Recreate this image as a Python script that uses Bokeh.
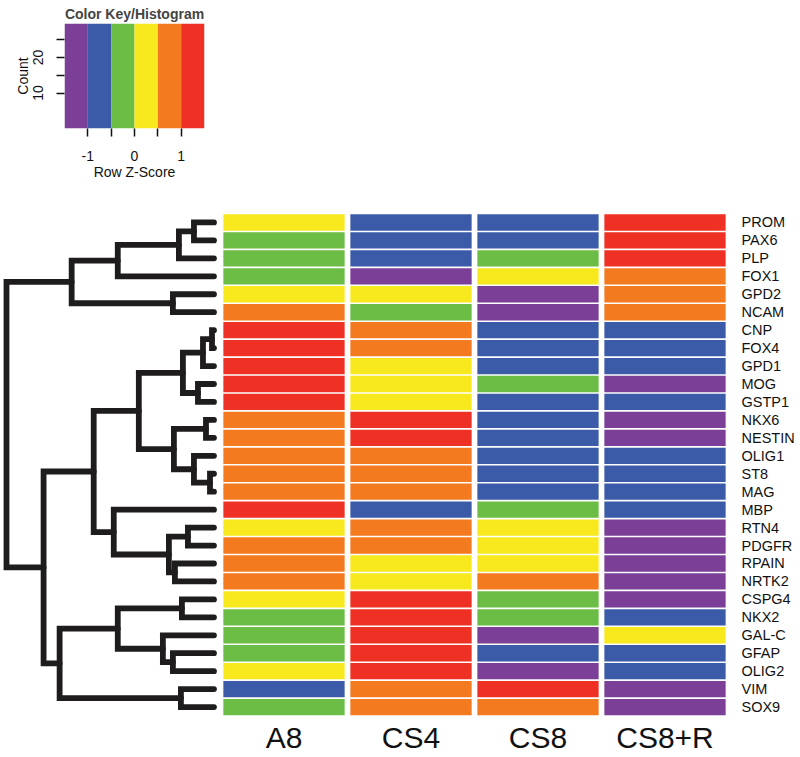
from bokeh.plotting import figure
from bokeh.models import ColumnDataSource, Range1d, FactorRange, LinearColorMapper, FixedTicker
from bokeh.layouts import column, row
from bokeh.core.properties import value
from bokeh.embed import file_html
from bokeh.resources import INLINE

FONT = "Liberation Sans"

# ---------------- data ----------------
genes = ["PROM", "PAX6", "PLP", "FOX1", "GPD2", "NCAM", "CNP", "FOX4", "GPD1",
         "MOG", "GSTP1", "NKX6", "NESTIN", "OLIG1", "ST8", "MAG", "MBP", "RTN4",
         "PDGFR", "RPAIN", "NRTK2", "CSPG4", "NKX2", "GAL-C", "GFAP", "OLIG2",
         "VIM", "SOX9"]
samples = ["A8", "CS4", "CS8", "CS8+R"]

# row z-scores
z_A8 = [0.25, -0.25, -0.25, -0.25, 0.25, 0.75, 1.25, 1.25, 1.25, 1.25, 1.25, 0.75, 0.75, 0.75,
        0.75, 0.75, 1.25, 0.25, 0.75, 0.75, 0.75, 0.25, -0.25, -0.25, -0.25, 0.25, -0.75, -0.25]
z_CS4 = [-0.75, -0.75, -0.75, -1.25, 0.25, -0.25, 0.75, 0.75, 0.25, 0.25, 0.25, 1.25, 1.25, 0.75,
         0.75, 0.75, -0.75, 0.75, 0.75, 0.25, 0.25, 1.25, 1.25, 1.25, 1.25, 1.25, 0.75, 0.75]
z_CS8 = [-0.75, -0.75, -0.25, 0.25, -1.25, -1.25, -0.75, -0.75, -0.75, -0.25, -0.75, -0.75, -0.75, -0.75,
         -0.75, -0.75, -0.25, 0.25, 0.25, 0.25, 0.75, -0.25, -0.25, -1.25, -0.75, -1.25, 1.25, 0.75]
z_CS8R = [1.25, 1.25, 1.25, 0.75, 0.75, 0.75, -0.75, -0.75, -0.75, -1.25, -0.75, -1.25, -1.25, -0.75,
          -0.75, -0.75, -0.75, -1.25, -1.25, -1.25, -1.25, -1.25, -0.75, 0.25, -0.75, -0.75, -1.25, -1.25]

key_breaks = [-1.5, -1.0, -0.5, 0.0, 0.5, 1.0, 1.5]
key_colors = ["#7b3f98", "#3b5ba8", "#6bbd45", "#f7e91e", "#f47a20", "#ee3124"]
key_count_max = 29.6
key_x_ticks = [-1.0, -0.5, 0.0, 0.5, 1.0]
key_x_labels = ["-1", "", "0", "", "1"]
key_y_ticks = [10, 15, 20, 25]
key_y_labels = ["10", "", "20", ""]

# row dendrogram (linkage style: leaves 0..27, merged nodes 28..)
merge_left = [6, 14, 11, 28, 9, 0, 13, 17, 31, 21, 26, 33, 19, 30, 4, 24, 35, 23, 36, 39, 37, 16, 46, 47, 48, 50, 51]
merge_right = [7, 15, 12, 8, 10, 1, 29, 18, 32, 22, 27, 2, 20, 34, 5, 25, 40, 43, 41, 3, 45, 44, 49, 42, 38, 52, 53]
merge_height = [2, 4, 8, 11, 16, 20, 20, 26, 31, 32, 33, 35, 39, 40, 41, 41, 45, 51, 75, 96, 96, 100, 120, 142, 154, 170, 207]

# ---------------- dendrogram geometry ----------------
n = len(genes)
node_y = [i + 0.5 for i in range(n)]
node_h = [0.0] * n
dxs, dys = [], []
for a, b, h in zip(merge_left, merge_right, merge_height):
    dxs.append([node_h[a], h, h, node_h[b]])
    dys.append([node_y[a], node_y[a], node_y[b], node_y[b]])
    node_y.append((node_y[a] + node_y[b]) / 2.0)
    node_h.append(h)

yr = Range1d(start=30.31, end=0)
FRAME_H = 544
TOP = 25

dendro = figure(frame_width=220, frame_height=FRAME_H, x_range=Range1d(212.98, -6.49), y_range=yr,
                x_axis_location=None, y_axis_location=None, toolbar_location=None,
                output_backend="svg", min_border_left=0, min_border_right=0,
                min_border_top=TOP, min_border_bottom=0, outline_line_color=None)
dendro.multi_line(xs=dxs, ys=dys, line_color="#1e1c1d", line_width=5.8,
                  line_cap="round", line_join="miter")
dendro.xgrid.visible = False
dendro.ygrid.visible = False

# ---------------- heatmap ----------------
cols, ys, zs = [], [], []
for s, zc in zip(samples, [z_A8, z_CS4, z_CS8, z_CS8R]):
    for i, zv in enumerate(zc):
        cols.append(s)
        ys.append(i + 0.5)
        zs.append(zv)
src = ColumnDataSource(dict(col=cols, y=ys, z=zs))
mapper = LinearColorMapper(palette=key_colors, low=key_breaks[0], high=key_breaks[-1])

heat = figure(frame_width=508, frame_height=FRAME_H, x_range=FactorRange(factors=samples, range_padding=0),
              y_range=yr, x_axis_location=None, y_axis_location="right", toolbar_location=None,
              output_backend="svg", min_border_left=0, min_border_right=0,
              min_border_top=TOP, min_border_bottom=0, outline_line_color=None)
heat.rect(x="col", y="y", width=0.955, height=0.91, source=src,
          fill_color={"field": "z", "transform": mapper}, line_color=None)
heat.text(x=samples, y=[29.22] * len(samples), text=samples, text_align="center",
          text_baseline="middle", text_font_size="30px", text_font=value(FONT),
          text_color="#111111")
heat.xgrid.visible = False
heat.ygrid.visible = False
ya = heat.yaxis[0]
ya.ticker = FixedTicker(ticks=[i + 0.5 for i in range(n)], minor_ticks=[])
ya.major_label_overrides = {i + 0.5: g for i, g in enumerate(genes)}
ya.axis_line_color = None
ya.major_tick_line_color = None
ya.major_tick_in = 0
ya.major_tick_out = 0
ya.minor_tick_line_color = None
ya.major_label_standoff = 13
ya.major_label_text_font = FONT
ya.major_label_text_font_size = "14.5px"
ya.major_label_text_color = "#111111"

# ---------------- colour key ----------------
key = figure(frame_width=140, frame_height=105, x_range=Range1d(key_breaks[0], key_breaks[-1]),
             y_range=Range1d(0, key_count_max), toolbar_location=None, output_backend="svg",
             min_border_left=64, min_border_right=10, min_border_top=23, min_border_bottom=60,
             outline_line_color=None, title="Color Key/Histogram")
key.quad(left=key_breaks[:-1], right=key_breaks[1:], bottom=0, top=key_count_max,
         fill_color=key_colors, line_color=None)
key.grid.visible = False
key.title.align = "center"
key.title.text_font = FONT
key.title.text_font_size = "14px"
key.title.text_font_style = "bold"
key.title.standoff = 0
key.title.vertical_align = "top"

xa = key.xaxis[0]
xa.ticker = FixedTicker(ticks=key_x_ticks, minor_ticks=[])
xa.major_label_overrides = dict(zip(key_x_ticks, key_x_labels))
xa.axis_label = "Row Z-Score"
yk = key.yaxis[0]
yk.ticker = FixedTicker(ticks=key_y_ticks, minor_ticks=[])
yk.major_label_overrides = dict(zip(key_y_ticks, key_y_labels))
yk.major_label_orientation = "vertical"
yk.axis_label = "Count"
for ax in (xa, yk):
    ax.axis_line_color = None
    ax.major_tick_in = 0
    ax.major_tick_out = 8
    ax.major_tick_line_width = 1.5
    ax.major_tick_line_color = "#111111"
    ax.minor_tick_line_color = None
    ax.major_label_text_font = FONT
    ax.major_label_text_font_size = "14px"
    ax.major_label_text_color = "#111111"
    ax.axis_label_text_font = FONT
    ax.axis_label_text_font_size = "14px"
    ax.axis_label_text_font_style = "normal"
    ax.axis_label_text_color = "#111111"
xa.major_label_standoff = 14
xa.axis_label_standoff = 0
yk.major_label_standoff = 13
yk.axis_label_standoff = 0

layout = column(key, row(dendro, heat))

open("out.html", "w").write(file_html(layout, INLINE))
